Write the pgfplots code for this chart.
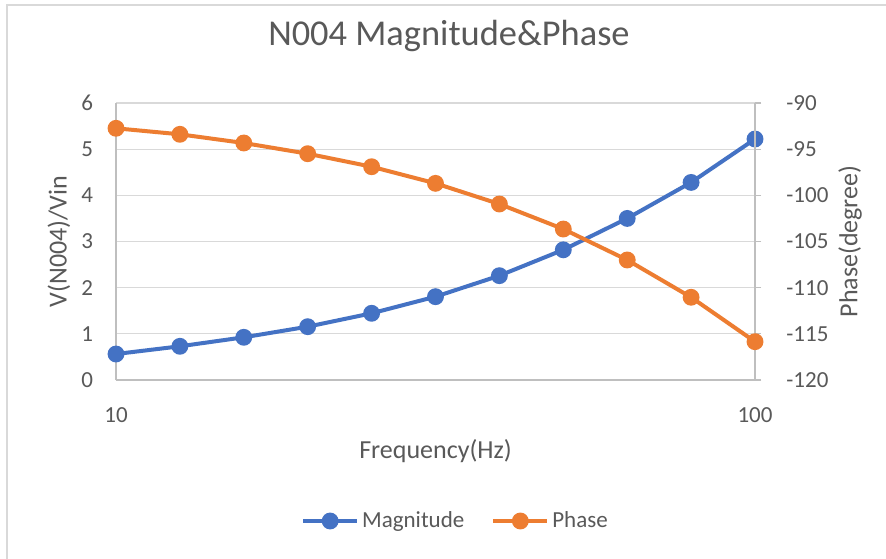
\documentclass[border=0pt]{standalone}
\usepackage{fontspec}
\setmainfont{Carlito}
\usepackage{pgfplots}
\usepackage{pgfplotstable}
\pgfplotsset{compat=1.18}
\definecolor{blu}{HTML}{4472C4}
\definecolor{org}{HTML}{ED7D31}
\definecolor{txt}{HTML}{595959}
\definecolor{grd}{HTML}{D9D9D9}
\definecolor{axl}{HTML}{BFBFBF}

\pgfplotstableread{
f mag ph
10     0.563 -92.74
12.589 0.73  -93.39
15.849 0.925 -94.33
19.953 1.155 -95.49
25.119 1.445 -96.90
31.623 1.805 -98.70
39.811 2.26  -100.94
50.119 2.82  -103.65
63.096 3.50  -107.00
79.433 4.28  -111.04
100    5.22  -115.85
}\datatab

\tikzset{
  magstyle/.style={blu, line width=2pt, mark=*, mark size=3.2pt, mark options={solid, fill=blu, draw=blu}},
  phstyle/.style={org, line width=2pt, mark=*, mark size=3.2pt, mark options={solid, fill=org, draw=org}},
}

\begin{document}
\begin{tikzpicture}
\useasboundingbox (0,0) rectangle (443pt,279pt);
\fill[white] (0,0) rectangle (443pt,279pt);
\draw[grd, line width=1pt] (3.5pt,-10pt) -- (3.5pt,276.5pt) -- (460pt,276.5pt);

\begin{semilogxaxis}[
  scale only axis, width=319.5pt, height=138.5pt,
  at={(58pt,89pt)}, anchor=south west,
  xmin=10, xmax=100,
  xtick={10,100}, xticklabels={10,100},
  xminorticks=false, clip=false,
  /pgf/number format/assume math mode=true,
  tick label style={font=\fontsize{11.5}{13}\selectfont, text=txt},
  axis line style={axl, line width=0.6pt},
  label style={font=\fontsize{13}{15}\selectfont, text=txt},
  ymin=0, ymax=6, ytick={0,1,...,6},
  ymajorgrids, grid style={grd, line width=0.6pt},
  axis y line*=left, axis x line*=bottom,
  major tick length=0pt,
  yticklabel style={anchor=east, inner sep=0pt, xshift=-11.25pt},
  xticklabel style={anchor=north, inner sep=0pt, yshift=-13.5pt},
  ylabel={V(N004)/Vin},
  ylabel style={at={(axis description cs:-0.0892,0.5)}, anchor=center},
  xlabel={Frequency(Hz)},
  xlabel style={at={(axis description cs:0.5,-0.256)}, anchor=center},
  title={N004 Magnitude\&Phase},
  title style={at={(axis description cs:0.521,1.1986)}, anchor=center, font=\fontsize{18.2}{21}\selectfont, text=txt},
]
\addplot[magstyle] table[x=f, y=mag] {\datatab};
\end{semilogxaxis}

\begin{semilogxaxis}[
  scale only axis, width=319.5pt, height=138.5pt,
  at={(58pt,89pt)}, anchor=south west,
  xmin=10, xmax=100,
  xtick={10,100}, xticklabels={10,100},
  xminorticks=false, clip=false,
  /pgf/number format/assume math mode=true,
  tick label style={font=\fontsize{11.5}{13}\selectfont, text=txt},
  axis line style={axl, line width=0.6pt},
  label style={font=\fontsize{13}{15}\selectfont, text=txt},
  ymin=-120, ymax=-90, ytick={-120,-115,...,-90},
  axis y line*=right, axis x line=none,
  tick align=outside, major tick length=3pt,
  ytick style={axl, line width=0.6pt},
  yticklabel style={anchor=west, inner sep=0pt, xshift=12.5pt},
  ylabel={Phase(degree)},
  ylabel style={at={(axis description cs:1.1487,0.5)}, anchor=center},
  legend columns=2,
  legend style={at={(axis description cs:0.532,-0.509)}, anchor=center,
    draw=none, fill=none, font=\fontsize{11.5}{13}\selectfont, text=txt,
    nodes={inner sep=1.5pt},
    /tikz/every even column/.append style={column sep=12pt}},
  legend image code/.code={\draw[mark repeat=2, mark phase=2, #1] plot coordinates {(0pt,0pt) (13.5pt,0pt) (27pt,0pt)};},
]
\addlegendimage{magstyle}
\addlegendentry{Magnitude}
\addplot[phstyle] table[x=f, y=ph] {\datatab};
\addlegendentry{Phase}
\end{semilogxaxis}
\end{tikzpicture}
\end{document}
